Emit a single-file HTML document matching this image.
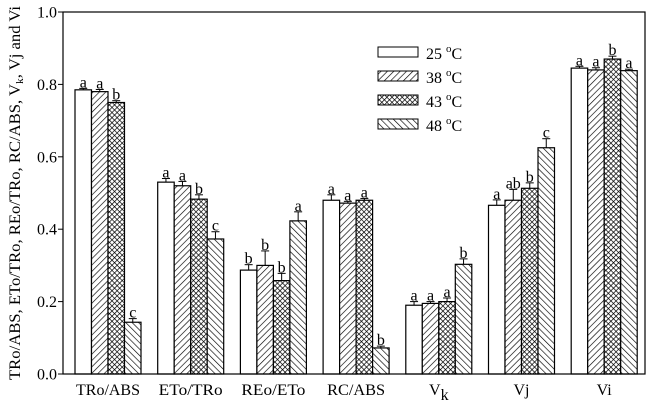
<!DOCTYPE html>
<html><head><meta charset="utf-8"><style>
body{margin:0;background:#fff}
svg{display:block}
text{font-family:"Liberation Serif","Times New Roman",Times,serif}
</style></head><body>
<svg id="chart" width="652" height="405" viewBox="0 0 652 405" font-family="Liberation Serif, Times New Roman, serif">
<defs>
<pattern id="p38" patternUnits="userSpaceOnUse" width="4.5" height="4.5" patternTransform="rotate(45)"><rect width="4.5" height="4.5" fill="#fff"/><line x1="0" y1="0" x2="0" y2="4.5" stroke="#000" stroke-width="1.3"/></pattern>
<pattern id="p43" patternUnits="userSpaceOnUse" width="3.6" height="3.6" patternTransform="rotate(45)"><rect width="3.6" height="3.6" fill="#fff"/><line x1="0" y1="0" x2="0" y2="3.6" stroke="#000" stroke-width="1.4"/><line x1="0" y1="0" x2="3.6" y2="0" stroke="#000" stroke-width="1.4"/></pattern>
<pattern id="p48" patternUnits="userSpaceOnUse" width="4.5" height="4.5" patternTransform="rotate(-45)"><rect width="4.5" height="4.5" fill="#fff"/><line x1="0" y1="0" x2="0" y2="4.5" stroke="#000" stroke-width="1.3"/></pattern>
</defs>
<g id="plot"></g>
</svg>
<script>
const categories=["TRo/ABS","ETo/TRo","REo/ETo","RC/ABS","Vk","Vj","Vi"];
const series=["25 °C","38 °C","43 °C","48 °C"];
const v25=[0.785,0.530,0.287,0.480,0.190,0.466,0.845];
const v38=[0.780,0.520,0.300,0.472,0.195,0.480,0.840];
const v43=[0.750,0.483,0.258,0.480,0.200,0.513,0.870];
const v48=[0.143,0.373,0.423,0.072,0.303,0.625,0.838];
const e25=[0.004,0.010,0.015,0.015,0.010,0.015,0.005];
const e38=[0.006,0.012,0.040,0.005,0.005,0.030,0.006];
const e43=[0.005,0.012,0.020,0.005,0.010,0.015,0.008];
const e48=[0.010,0.020,0.025,0.005,0.015,0.025,0.004];
const l25=["a","a","b","a","a","a","a"];
const l38=["a","a","b","a","a","ab","a"];
const l43=["b","b","b","a","a","b","b"];
const l48=["c","c","a","b","b","c","a"];
const yTicks=[0,0.2,0.4,0.6,0.8,1.0];
const vals=[v25,v38,v43,v48],errs=[e25,e38,e43,e48],lets=[l25,l38,l43,l48];
const fills=["#fff","url(#p38)","url(#p43)","url(#p48)"];
const L=63,R=645,T=12,B=374;
const y=v=>B-(B-T)*v;
const g0=75,gStep=82.7,bw=16.5;
const x=(gi,si)=>g0+gi*gStep+si*bw;
const NS="http://www.w3.org/2000/svg";
const g=document.getElementById('plot');
function mk(tag,at,txt){const e=document.createElementNS(NS,tag);for(const k in at)e.setAttribute(k,at[k]);if(txt!==undefined)e.textContent=txt;g.appendChild(e);return e;}
for(let si=0;si<4;si++)for(let gi=0;gi<categories.length;gi++){
 const v=vals[si][gi],xx=x(gi,si);
 const r=mk('rect',{x:xx,y:y(v),width:bw,height:B-y(v),fill:fills[si],stroke:'#000','stroke-width':1.2});
 
 
 const cx=xx+bw/2,top=y(v+errs[si][gi]);
 const l1=mk('line',{x1:cx,y1:y(v),x2:cx,y2:top,stroke:'#000','stroke-width':1});
 
 
 const l2=mk('line',{x1:cx-4,y1:top,x2:cx+4,y2:top,stroke:'#000','stroke-width':1});
 
 
 const t=mk('text',{x:cx,y:top-1,'text-anchor':'middle','font-size':16},lets[si][gi]);
 
 
}
const fr=mk('rect',{x:L,y:T,width:R-L,height:B-T,fill:'none',stroke:'#000','stroke-width':1.2});


yTicks.forEach(t=>{
 const tl=mk('line',{x1:L-5,y1:y(t),x2:L,y2:y(t),stroke:'#000','stroke-width':1});
 
 
 const tx=mk('text',{x:L-6,y:y(t)+5.5,'text-anchor':'end','font-size':16},t.toFixed(1));
 
 
});
const xw={"TRo/ABS":64,"ETo/TRo":64,"REo/ETo":64,"RC/ABS":58};
categories.forEach((c,gi)=>{
 const cx=x(gi,2);
 const tl=mk('line',{x1:cx,y1:B,x2:cx,y2:B-6,stroke:'#000','stroke-width':1});
 
 
 let tx;
 if(c==="Vk"){tx=mk('text',{x:cx,y:395,'text-anchor':'middle','font-size':16});
  tx.innerHTML='V<tspan dy="5">k</tspan>';}
 else {tx=mk('text',{x:cx,y:395,'text-anchor':'middle','font-size':16},c);
  if(xw[c]){tx.setAttribute('textLength',xw[c]);tx.setAttribute('lengthAdjust','spacingAndGlyphs');}}
 
 
});
const yt=mk('text',{x:0,y:0,'text-anchor':'middle','font-size':16,transform:'translate(20,193) rotate(-90)',textLength:374,lengthAdjust:'spacingAndGlyphs'});
yt.innerHTML='TRo/ABS, ETo/TRo, REo/TRo, RC/ABS, V<tspan font-size="11" dy="3">k</tspan><tspan dy="-3">, Vj and Vi</tspan>';


series.forEach((s,i)=>{
 const yy=47+i*24;
 const r=mk('rect',{x:378,y:yy,width:40,height:10,fill:fills[i],stroke:'#000','stroke-width':1});
 
 
 const t=mk('text',{x:426,y:yy+12,'font-size':16});
 t.innerHTML=s.slice(0,2)+' <tspan font-size="11" dy="-7">o</tspan><tspan dy="7">C</tspan>';
 
 
});
</script>
</body></html>
